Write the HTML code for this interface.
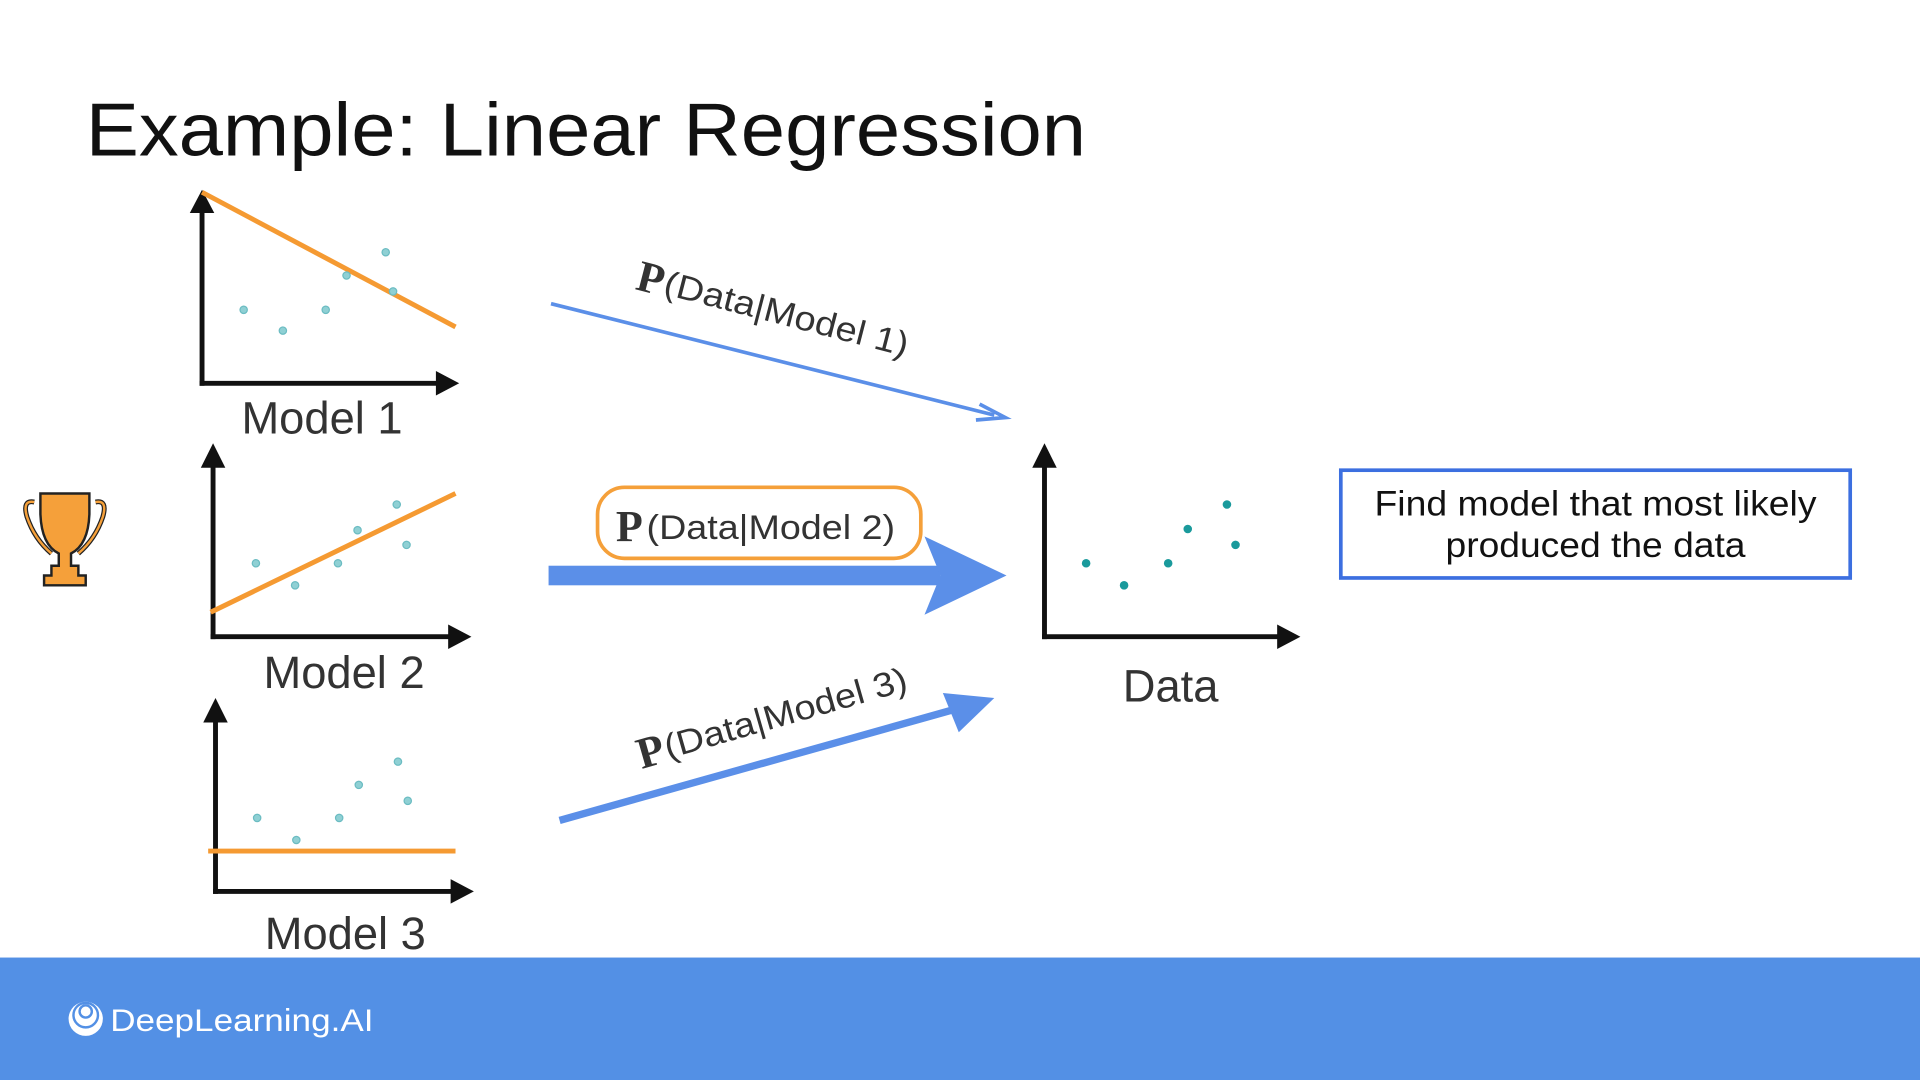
<!DOCTYPE html>
<html><head><style>
html,body{margin:0;padding:0;background:#fff;width:1920px;height:1080px;overflow:hidden}
svg{display:block}
</style></head><body>
<svg width="1920" height="1080" viewBox="0 0 1568 882" xmlns="http://www.w3.org/2000/svg" font-family="Liberation Sans, sans-serif">
<rect width="1568" height="882" fill="#fff"/>
<text x="70" y="127" font-size="61" fill="#111" textLength="817" lengthAdjust="spacingAndGlyphs">Example: Linear Regression</text>

<g stroke="#111" stroke-width="4" fill="none">
<line x1="165" y1="315" x2="165" y2="170"/><line x1="163" y1="313" x2="360" y2="313"/>
<line x1="174" y1="522" x2="174" y2="378"/><line x1="172" y1="520" x2="370" y2="520"/>
<line x1="176" y1="730" x2="176" y2="586"/><line x1="174" y1="728" x2="372" y2="728"/>
<line x1="853" y1="522" x2="853" y2="378"/><line x1="851" y1="520" x2="1048" y2="520"/>
</g>
<g fill="#111">
<path d="M155,174 L165,155 L175,174 z"/><path d="M356,303 L375,313 L356,323 z"/>
<path d="M164,382 L174,362 L184,382 z"/><path d="M366,510 L385,520 L366,530 z"/>
<path d="M166,590 L176,570 L186,590 z"/><path d="M368,718 L387,728 L368,738 z"/>
<path d="M843,382 L853,362 L863,382 z"/><path d="M1043,510 L1062,520 L1043,530 z"/>
</g>
<g stroke="#f59a32" stroke-width="4">
<line x1="165" y1="157" x2="372" y2="267"/>
<line x1="172" y1="500" x2="372" y2="403"/>
<line x1="170" y1="695" x2="372" y2="695"/>
</g>
<g fill="#8fd0d4" stroke="#6bbcc2" stroke-width="1">
<circle cx="199" cy="253" r="3"/><circle cx="231" cy="270" r="3"/><circle cx="266" cy="253" r="3"/><circle cx="283" cy="225" r="3"/><circle cx="315" cy="206" r="3"/><circle cx="321" cy="238" r="3"/>
<circle cx="209" cy="460" r="3"/><circle cx="241" cy="478" r="3"/><circle cx="276" cy="460" r="3"/><circle cx="292" cy="433" r="3"/><circle cx="324" cy="412" r="3"/><circle cx="332" cy="445" r="3"/>
<circle cx="210" cy="668" r="3"/><circle cx="242" cy="686" r="3"/><circle cx="277" cy="668" r="3"/><circle cx="293" cy="641" r="3"/><circle cx="325" cy="622" r="3"/><circle cx="333" cy="654" r="3"/>
</g>
<g fill="#1a9a9c">
<circle cx="887" cy="460" r="3.5"/><circle cx="918" cy="478" r="3.5"/><circle cx="954" cy="460" r="3.5"/><circle cx="970" cy="432" r="3.5"/><circle cx="1002" cy="412" r="3.5"/><circle cx="1009" cy="445" r="3.5"/>
</g>
<g font-size="37" fill="#333" text-anchor="middle">
<text x="263" y="354">Model 1</text>
<text x="281" y="562">Model 2</text>
<text x="282" y="775">Model 3</text>
<text x="956" y="573">Data</text>
</g>

<g stroke="#222" stroke-width="2" fill="#f5a03a">
<path d="M28,410 Q18,408 22,422 Q28,440 42,452" fill="none" stroke-width="4" stroke="#222"/>
<path d="M28,410 Q18,408 22,422 Q28,440 42,452" fill="none" stroke-width="2" stroke="#f5a03a"/>
<path d="M78,410 Q88,408 84,422 Q78,440 64,452" fill="none" stroke-width="4" stroke="#222"/>
<path d="M78,410 Q88,408 84,422 Q78,440 64,452" fill="none" stroke-width="2" stroke="#f5a03a"/>
<path d="M33,403 L73,403 L73,420 Q72,445 58,452 L58,462 L64,462 L64,470 L70,470 L70,478 L36,478 L36,470 L42,470 L42,462 L48,462 L48,452 Q34,445 33,420 z"/>
</g>

<line x1="450" y1="248" x2="812" y2="339" stroke="#5b8fe8" stroke-width="3"/>
<path d="M800,330 L821,341 L797,343" fill="none" stroke="#5b8fe8" stroke-width="3"/>
<rect x="448" y="462" width="320" height="16" fill="#5b8fe8"/>
<path d="M755,438 L822,470 L755,502 L768,470 z" fill="#5b8fe8"/>
<line x1="457" y1="670" x2="795" y2="575" stroke="#5b8fe8" stroke-width="6"/>
<path d="M770,566 L812,570 L783,598 z" fill="#5b8fe8"/>

<rect x="488" y="398" width="264" height="58" rx="22" fill="#fff" stroke="#f5a03a" stroke-width="3"/>
<text x="503" y="442" font-size="36" font-family="Liberation Serif, serif" font-weight="bold" fill="#333">P</text>
<text x="528" y="440" font-size="28" fill="#333" textLength="203" lengthAdjust="spacingAndGlyphs">(Data|Model 2)</text>

<g transform="translate(518,236) rotate(14.5)" fill="#333">
<text x="0" y="0" font-size="36" font-family="Liberation Serif, serif" font-weight="bold">P</text>
<text x="23" y="-2" font-size="28" textLength="205" lengthAdjust="spacingAndGlyphs">(Data|Model 1)</text>
</g>
<g transform="translate(524,628) rotate(-16)" fill="#333">
<text x="0" y="0" font-size="36" font-family="Liberation Serif, serif" font-weight="bold">P</text>
<text x="23" y="-2" font-size="28" textLength="205" lengthAdjust="spacingAndGlyphs">(Data|Model 3)</text>
</g>

<rect x="1095" y="384" width="416" height="88" fill="#fff" stroke="#3c6fe0" stroke-width="3"/>
<text x="1303" y="421" font-size="29" text-anchor="middle" fill="#111" textLength="361" lengthAdjust="spacingAndGlyphs">Find model that most likely</text>
<text x="1303" y="455" font-size="29" text-anchor="middle" fill="#111" textLength="245" lengthAdjust="spacingAndGlyphs">produced the data</text>

<rect x="0" y="782" width="1568" height="100" fill="#5390e5"/>
<circle cx="70" cy="832" r="14" fill="#fff"/>
<circle cx="70" cy="829" r="10" fill="none" stroke="#5390e5" stroke-width="2"/>
<circle cx="70" cy="826" r="5" fill="none" stroke="#5390e5" stroke-width="2"/>
<text x="90" y="842" font-size="26" fill="#fff" textLength="215" lengthAdjust="spacingAndGlyphs">DeepLearning.AI</text>
</svg>
</body></html>
